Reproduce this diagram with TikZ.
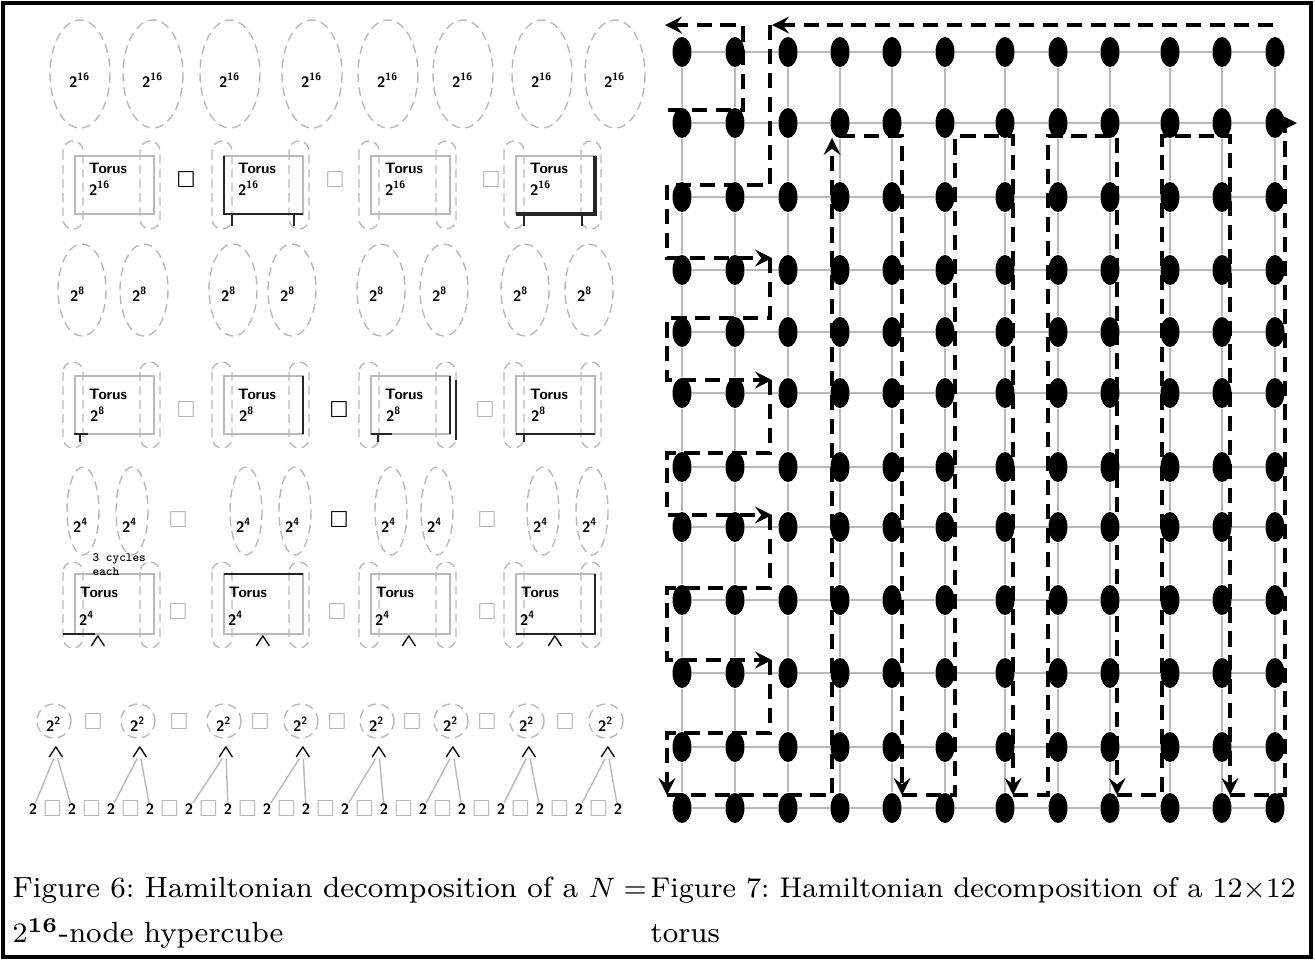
\documentclass[tikz,border=0pt]{standalone}
\usepackage{amsmath}
\usepackage{amssymb}
\usepackage{tikz}
\usetikzlibrary{shapes.geometric, calc}

\newcommand{\powtwo}[1]{2\textsuperscript{#1}}

\begin{document}
\begin{tikzpicture}[x=0.01cm, y=-0.01cm, >=stealth,
    dot/.style={ellipse, fill=black, inner sep=0pt, minimum width=0.19cm, minimum height=0.30cm},
    link/.style={gray!55, line width=0.35pt},
    cyc/.style={line width=1.1pt, dash pattern=on 4.3pt off 2.5pt},
    ring/.style={gray!55, line width=0.4pt, dash pattern=on 2.5pt off 1.5pt},
    hard/.style={black!85, line width=0.7pt},
    soft/.style={gray!55, line width=0.4pt},
    lbl/.style={font=\fontsize{4.3}{5}\selectfont\sffamily\bfseries, inner sep=0pt},
    note/.style={font=\fontsize{3.6}{4}\selectfont\ttfamily\bfseries, inner sep=0pt, align=left},
    prodsign/.style={font=\fontsize{6}{6}\selectfont, inner sep=0pt, gray!60},
    wedgemark/.style={font=\fontsize{5}{5}\selectfont\bfseries, inner sep=0pt},
    captext/.style={font=\fontsize{8.3}{10}\selectfont, anchor=base west, inner sep=0pt}]

\useasboundingbox (0,0) rectangle (1315,960);
\draw[line width=1pt] (3,3) rectangle (1311,957);

%%% left: splitting the 2^16 hypercube

% eight 2^16 cycles
\foreach \x [count=\i] in {80,153,230,312,388,463,542,615} {
  \draw[ring] (\x,74) ellipse (30 and 54);
  \node[lbl] (a\i) at (\x,80) {\powtwo{16}};
}

% the three torus rows
\foreach \bx [count=\k] in {75,224,371,516} {
  \draw[soft] (\bx,156) rectangle (\bx+79,214);
  \draw[ring, rounded corners=0.1cm] (\bx-12,141) rectangle (\bx+8,229);
  \draw[ring, rounded corners=0.1cm] (\bx+65,141) rectangle (\bx+85,229);
  \node[lbl] (tb\k) at (\bx+33,168) {Torus};
  \node[lbl] (pb\k) at (\bx+25,188) {\powtwo{16}};

  \draw[soft] (\bx,376) rectangle (\bx+79,434);
  \draw[ring, rounded corners=0.1cm] (\bx-12,362) rectangle (\bx+8,448);
  \draw[ring, rounded corners=0.1cm] (\bx+65,362) rectangle (\bx+85,448);
  \node[lbl] (td\k) at (\bx+33,394) {Torus};
  \node[lbl] (pd\k) at (\bx+23,414) {\powtwo{8}};

  \draw[soft] (\bx,574) rectangle (\bx+79,634);
  \draw[ring, rounded corners=0.1cm] (\bx-12,562) rectangle (\bx+8,648);
  \draw[ring, rounded corners=0.1cm] (\bx+65,562) rectangle (\bx+85,648);
  \node[lbl] (tf\k) at (\bx+24,592) {Torus};
  \node[lbl] (pf\k) at (\bx+12,618) {\powtwo{4}};
}

% darker box sides
\draw[hard] (224,156) -- (224,214) -- (303,214);
\draw[hard] (232,214) -- (232,226) (294,214) -- (294,226);
\draw[hard, line width=1pt] (516,214) -- (595,214) -- (595,156);
\draw[hard] (524,214) -- (524,226) (582,214) -- (582,226);
\draw[hard] (303,376) -- (303,434);
\draw[hard] (450,376) -- (450,434) (456,380) -- (456,440);
\draw[hard] (371,434) -- (392,434) (378,434) -- (378,442);
\draw[hard] (516,434) -- (595,434) (524,434) -- (524,442);
\draw[hard] (80,434) -- (80,442) (74,434) -- (88,434);
\draw[hard] (224,574) -- (303,574);
\draw[hard] (516,634) -- (595,634) -- (595,574);
\draw[hard] (63,634) -- (95,634);

% box product signs between the groups
\foreach \x/\y [count=\i] in {186/180,335/180,491/180, 186/410,339/410,485/410,
                              178/520,339/520,487/520, 178/612,337/612,487/612}
  \node[prodsign] (s\i) at (\x,\y) {$\Box$};
\node[prodsign, black] at (s1) {$\Box$};
\node[prodsign, black] at (s5) {$\Box$};
\node[prodsign, black] at (s8) {$\Box$};

% 2^8 cycles
\foreach \x [count=\i] in {74,136,225,284,373,436,517,581} {
  \draw[ring] (\x+8,290) ellipse (24 and 46);
  \node[lbl] (c\i) at (\x+4,294) {\powtwo{8}};
}

% 2^4 cycles
\foreach \x [count=\i] in {78,127,241,290,386,432,538,587} {
  \draw[ring] (\x+5,511) ellipse (16 and 44);
  \node[lbl] (e\i) at (\x+3,525) {\powtwo{4}};
}
\node[note, anchor=north west] (cy) at (92,553) {3 cycles\\each};

% markers under the 2^4 tori
\foreach \x [count=\i] in {98,263,409,555}
  \node[wedgemark] (fm\i) at (\x,642) {$\boldsymbol{\wedge}$};

% 2^2 cycles and their split into 2 x 2
\foreach \x [count=\i] in {52,136,222,299,375,449,525,604} {
  \draw[ring] (\x+2,721) circle (17);
  \node[lbl] (g\i) at (\x+2,724) {\powtwo{2}};
  \node[wedgemark] (gm\i) at (\x+4,753) {$\boldsymbol{\wedge}$};
}
\foreach \x [count=\i] in {93,179,260,337,412,487,565}
  \node[prodsign] (gs\i) at (\x,722) {$\Box$};

\foreach \i in {1,...,16} {
  \pgfmathsetmacro{\bx}{33+39*(\i-1)}
  \node[lbl] (b\i) at (\bx,809) {2};
}
\foreach \i in {1,...,15} {
  \pgfmathtruncatemacro{\j}{\i+1}
  \node[prodsign] at ($(b\i)!0.5!(b\j)$) {$\Box$};
}
\foreach \i in {1,...,8} {
  \pgfmathtruncatemacro{\l}{2*\i-1}
  \pgfmathtruncatemacro{\r}{2*\i}
  \draw[soft] (gm\i) -- (b\l);
  \draw[soft] (gm\i) -- (b\r);
}

%%% right: 12x12 torus
\foreach \y [count=\r] in {52,123,197,270,332,393,467,527,600,673,747,808}
  \foreach \x [count=\c] in {682,735,788,840,892,945,1005,1058,1110,1170,1222,1275}
    \node[dot] (v-\r-\c) at (\x,\y) {};

\foreach \r in {1,...,12}
  \foreach \c in {1,...,11} {
    \pgfmathtruncatemacro{\d}{\c+1}
    \draw[link] (v-\r-\c) -- (v-\r-\d);
    \draw[link] (v-\c-\r) -- (v-\d-\r);
  }

% the hamiltonian cycle
\draw[cyc, ->] (668,110) -- (743,110) -- (743,25) -- (665,25);
\draw[cyc, ->] (1273,25) -- (772,25);
\foreach \ya/\yb/\yc in {25/185/258, 258/318/380, 380/453/515, 515/588/660}
  \draw[cyc, ->] (770,\ya) -- (770,\yb) -- (667,\yb) -- (667,\yc) -- (772,\yc);
\draw[cyc, ->] (770,660) -- (770,733) -- (667,733) -- (667,795);
\draw[cyc, ->] (667,795) -- (832,795) -- (832,138);
\draw[cyc, ->] (840,136) -- (902,136) -- (902,795);
\foreach \xa/\xb/\xc in {902/955/1013, 1013/1048/1117, 1117/1162/1230}
  \draw[cyc, ->] (\xa,795) -- (\xb,795) -- (\xb,136) -- (\xc,136) -- (\xc,795);
\draw[cyc, ->] (1230,795) -- (1285,795) -- (1285,123) -- (1297,123);

%%% captions
\node[captext] (cap6) at (12,897) {Figure 6:\ Hamiltonian decomposition of a $N=$};
\node[captext] (cap6b) at (12,942) {$2^{\mathbf{16}}$-node hypercube};
\node[captext, font=\fontsize{8.1}{10}\selectfont] (cap7) at (650,897)
  {Figure 7:\ Hamiltonian decomposition of a $12{\times}12$};
\node[captext] (cap7b) at (650,942) {torus};
\end{tikzpicture}
\end{document}
